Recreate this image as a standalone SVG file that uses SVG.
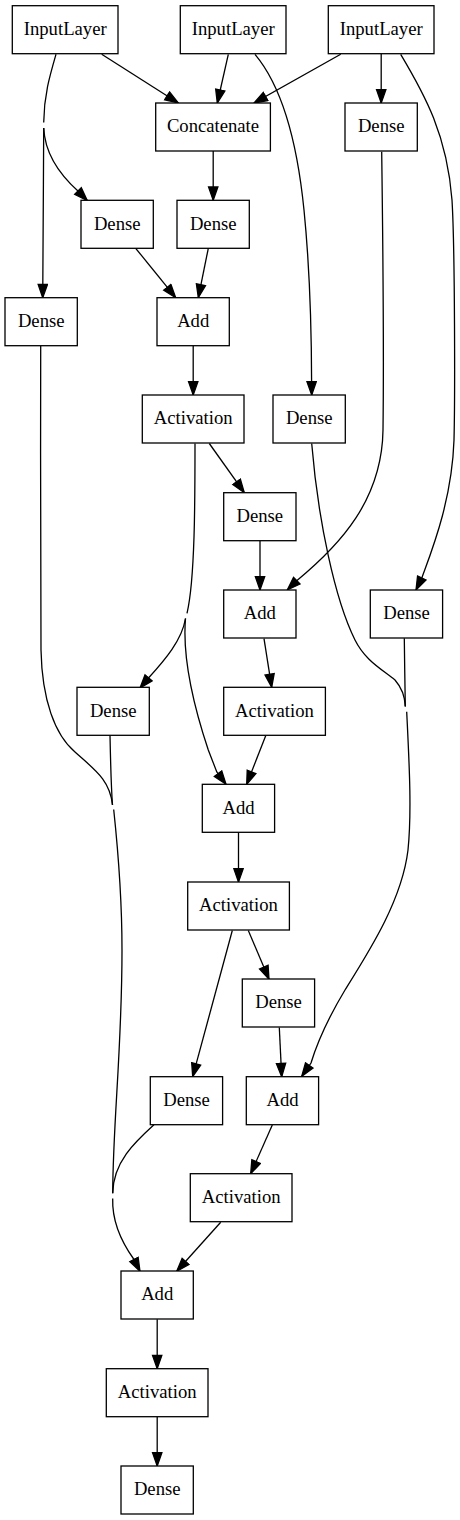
<svg xmlns="http://www.w3.org/2000/svg" width="460" height="1520" viewBox="0 0 460 1520">
<style>
.n rect{fill:#fff;stroke:#000;stroke-width:1.3}
.n text{font-family:"Liberation Serif","Times New Roman",serif;font-size:18.67px;text-anchor:middle;fill:#000}
.e path{fill:none;stroke:#000;stroke-width:1.3}
.e path.a{marker-end:url(#ah)}
</style>
<defs>
<marker id="ah" markerUnits="userSpaceOnUse" markerWidth="16" markerHeight="12" viewBox="-1 -1 16 12" refX="13.3" refY="4.67" orient="auto">
<path d="M0,0 L13.3,4.67 L0,9.33 Z" fill="#000" stroke="#000" stroke-width="1.3"/>
</marker>
</defs>
<rect width="460" height="1520" fill="#fff"/>
<g class="e" id="edges">
<path class="a" d="M101.7,54.3 L178.3,103"/>
<path class="a" d="M228.3,54.3 L217.3,103"/>
<path class="a" d="M340.7,54.3 L254,103"/>
<path class="a" d="M381.2,54 L381.2,103"/>
<path d="M56,54.3 C50,75 44,95 43.7,122.5"/>
<path class="a" d="M43.7,128 C43.5,180 43,240 42.8,285 L42.7,297.7"/>
<path class="a" d="M43.7,128 C45,155 60,175 78.5,191.5 L87.3,200.5"/>
<path class="a" d="M255,54.3 C285,90 298,150 304,210 C310,270 311.5,340 311.6,382 L311.7,395"/>
<path class="a" d="M400.7,54.3 C425,95 447,135 452,200 C455,250 455,400 454,440 C452,500 432,550 422,577.5 L416,590"/>
<path class="a" d="M381.7,151.7 C383,250 384,350 383,430 C382,500 340,545 297,580.5 L287.3,590"/>
<path class="a" d="M213.2,151 L213.2,200.3"/>
<path class="a" d="M135.7,248.3 L175.7,297.7"/>
<path class="a" d="M208.3,248.3 L198.3,297.7"/>
<path class="a" d="M193.2,346 L193.2,395"/>
<path d="M40.7,346 C40.5,450 40.5,600 41,650 C42,700 55,735 75,752 C95,770 110,780 112.5,805"/>
<path d="M110,735.3 C110.5,760 111,785 112.5,805"/>
<path d="M113.7,809.5 C118,850 122,900 122,950 C122,1050 113,1120 112.7,1193.3"/>
<path d="M154,1124.7 C135,1142 113,1162 112.7,1193.3"/>
<path class="a" d="M112.7,1198.5 C112,1220 120,1240 134,1259.5 L140,1271.3"/>
<path class="a" d="M209.3,443.5 L244.3,492.7"/>
<path class="a" d="M260,540.7 L260,590"/>
<path d="M195,443.5 C195,500 195,580 187,613.3"/>
<path class="a" d="M185.5,618.5 C182,640 165,660 148,678.5 L140,688"/>
<path class="a" d="M185.5,618.5 C182,660 195,710 208.3,750 L216.8,772 L226,784.3"/>
<path class="a" d="M264,638.7 L271.7,687.3"/>
<path class="a" d="M265.7,735.7 L246.7,784.3"/>
<path d="M311.7,443.5 C318,520 335,600 355,640 C365,660 380,668 395,680 C402,688 405,698 405.3,706.5"/>
<path d="M404.3,638.3 C404.5,660 405,685 405.3,706.5"/>
<path class="a" d="M406.7,711.7 C409,760 412,810 408,850 C402,900 370,950 345,990 C330,1015 318,1040 311,1063 L301.7,1076.3"/>
<path class="a" d="M238.5,832.3 L238.5,882"/>
<path class="a" d="M232.3,930.5 L192.7,1076.7"/>
<path class="a" d="M248.3,930.5 L269,979.3"/>
<path class="a" d="M279.3,1027.5 L281.7,1076.7"/>
<path class="a" d="M272.3,1125 L250.7,1173.7"/>
<path class="a" d="M220.7,1222.3 L176.7,1271.3"/>
<path class="a" d="M157.2,1319.3 L157.2,1368.7"/>
<path class="a" d="M157.2,1416.7 L157.2,1466"/>
</g>
<g class="n" id="input_1"><rect x="12.3" y="5.7" width="105.7" height="48"/><text x="65.2" y="34.9">InputLayer</text></g>
<g class="n" id="input_2"><rect x="180.3" y="5.7" width="105.7" height="48"/><text x="233.2" y="34.9">InputLayer</text></g>
<g class="n" id="input_3"><rect x="328.3" y="5.7" width="105.7" height="48"/><text x="381.2" y="34.9">InputLayer</text></g>
<g class="n" id="concatenate"><rect x="155.7" y="103" width="114.7" height="48"/><text x="213" y="132.2">Concatenate</text></g>
<g class="n" id="dense_a"><rect x="345" y="103" width="72.3" height="48"/><text x="381.2" y="132.2">Dense</text></g>
<g class="n" id="dense_b"><rect x="81" y="200.3" width="72.3" height="48"/><text x="117.2" y="229.5">Dense</text></g>
<g class="n" id="dense_c"><rect x="177" y="200.3" width="72.3" height="48"/><text x="213.2" y="229.5">Dense</text></g>
<g class="n" id="dense_d"><rect x="5" y="297.7" width="72.3" height="48"/><text x="41.2" y="326.9">Dense</text></g>
<g class="n" id="add_1"><rect x="157" y="297.7" width="72.3" height="48"/><text x="193.2" y="326.9">Add</text></g>
<g class="n" id="act_1"><rect x="142.3" y="395" width="101.7" height="48"/><text x="193.2" y="424.2">Activation</text></g>
<g class="n" id="dense_e"><rect x="273" y="395" width="72.3" height="48"/><text x="309.2" y="424.2">Dense</text></g>
<g class="n" id="dense_f"><rect x="223.7" y="492.7" width="72.3" height="48"/><text x="259.8" y="521.9">Dense</text></g>
<g class="n" id="add_2"><rect x="223.7" y="590" width="72.3" height="48"/><text x="259.8" y="619.2">Add</text></g>
<g class="n" id="dense_g"><rect x="370.3" y="590" width="72.3" height="48"/><text x="406.5" y="619.2">Dense</text></g>
<g class="n" id="dense_h"><rect x="77" y="687.3" width="72.3" height="48"/><text x="113.2" y="716.5">Dense</text></g>
<g class="n" id="act_2"><rect x="223.7" y="687.3" width="101.7" height="48"/><text x="274.5" y="716.5">Activation</text></g>
<g class="n" id="add_3"><rect x="202.3" y="784.3" width="72.3" height="48"/><text x="238.5" y="813.5">Add</text></g>
<g class="n" id="act_3"><rect x="187.7" y="882" width="101.7" height="48"/><text x="238.5" y="911.2">Activation</text></g>
<g class="n" id="dense_i"><rect x="242.3" y="979" width="72.3" height="48"/><text x="278.5" y="1008.2">Dense</text></g>
<g class="n" id="dense_j"><rect x="150.3" y="1076.7" width="72.3" height="48"/><text x="186.5" y="1105.9">Dense</text></g>
<g class="n" id="add_4"><rect x="246.3" y="1076.7" width="72.3" height="48"/><text x="282.5" y="1105.9">Add</text></g>
<g class="n" id="act_4"><rect x="190.3" y="1173.7" width="101.7" height="48"/><text x="241.2" y="1202.9">Activation</text></g>
<g class="n" id="add_5"><rect x="121" y="1271" width="72.3" height="48"/><text x="157.2" y="1300.2">Add</text></g>
<g class="n" id="act_5"><rect x="106.3" y="1368.7" width="101.7" height="48"/><text x="157.2" y="1397.9">Activation</text></g>
<g class="n" id="dense_k"><rect x="121" y="1466" width="72.3" height="48"/><text x="157.2" y="1495.2">Dense</text></g>
</svg>
